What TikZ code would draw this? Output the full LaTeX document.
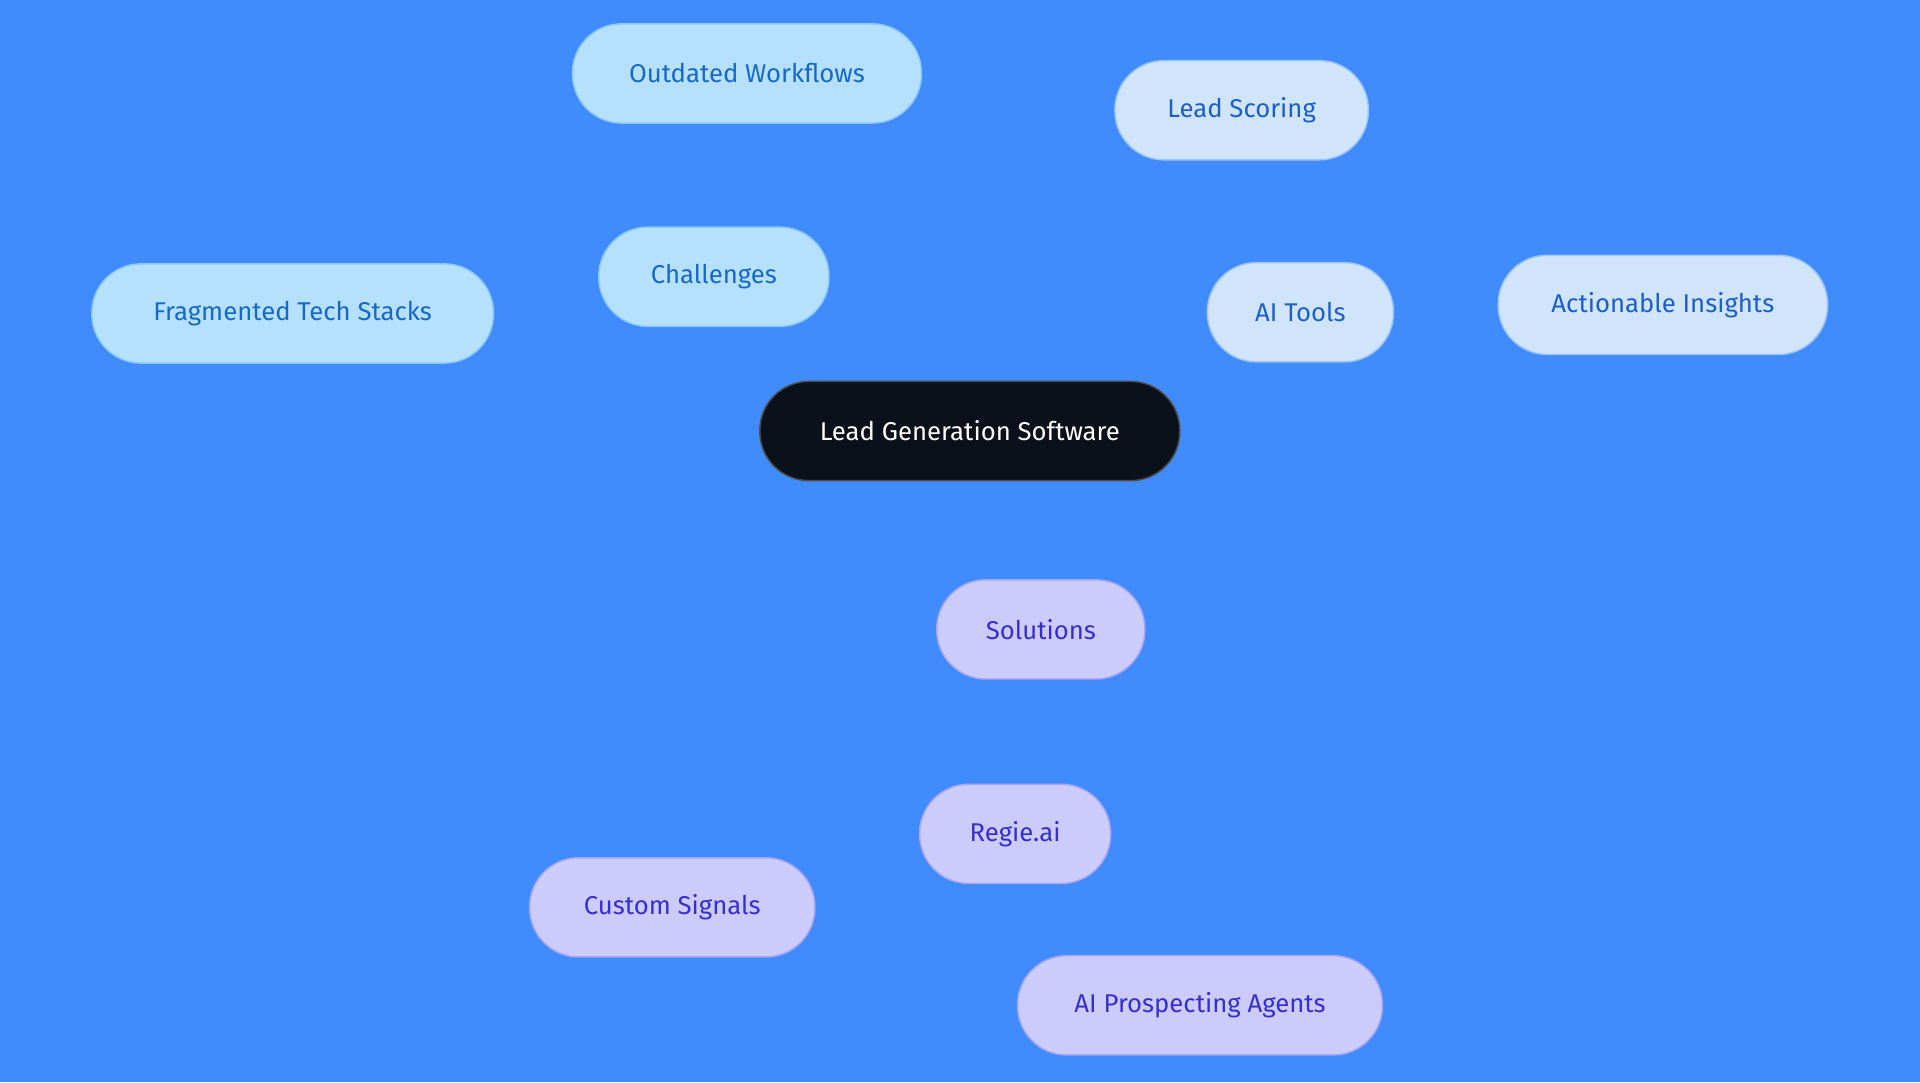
\documentclass[tikz,border=0pt]{standalone}
\usepackage{fontspec}
\setmainfont{Fira Sans}
\usetikzlibrary{backgrounds}
\definecolor{bg}{HTML}{408CFF}
\definecolor{mfill}{HTML}{0B111A}
\definecolor{cfill}{HTML}{B5E0FE}
\definecolor{cdraw}{HTML}{8CC8F8}
\definecolor{ctext}{HTML}{1769C4}
\definecolor{afill}{HTML}{D0E5FC}
\definecolor{adraw}{HTML}{9CC4F4}
\definecolor{atext}{HTML}{1D5FC4}
\definecolor{sfill}{HTML}{CBCBFC}
\definecolor{sdraw}{HTML}{A7A4F2}
\definecolor{stext}{HTML}{3A2ECB}
\begin{document}
\begin{tikzpicture}[x=1pt,y=-1pt,
  base/.style={rounded corners=40pt,line width=1.2pt,minimum height=81pt,inner sep=0pt,font=\fontsize{21}{25}\selectfont},
  ch/.style={base,fill=cfill,draw=cdraw,text=ctext},
  ai/.style={base,fill=afill,draw=adraw,text=atext},
  so/.style={base,fill=sfill,draw=sdraw,text=stext},
  ce/.style={draw=cdraw,line width=2pt},
  ae/.style={draw=adraw!80!white,line width=2pt},
  se/.style={draw=sdraw,line width=2pt}]
\fill[bg] (0,0) rectangle (1568,884);
\node[base,fill=mfill,draw=black!70,text=white,minimum width=343pt] (m) at (792,352) {Lead Generation Software};
\node[ch,minimum width=188pt] (c) at (583,226) {Challenges};
\node[ch,minimum width=285pt] (ow) at (610,60) {Outdated Workflows};
\node[ch,minimum width=328pt] (ft) at (239,256) {Fragmented Tech Stacks};
\node[ai,minimum width=152pt] (a) at (1062,255) {AI Tools};
\node[ai,minimum width=207pt] (ls) at (1014,90) {Lead Scoring};
\node[ai,minimum width=269pt] (ins) at (1358,249) {Actionable Insights};
\node[so,minimum width=170pt] (s) at (850,514) {Solutions};
\node[so,minimum width=156pt] (r) at (829,681) {Regie.ai};
\node[so,minimum width=233pt] (cs) at (549,741) {Custom Signals};
\node[so,minimum width=298pt] (ap) at (980,821) {AI Prospecting Agents};
\begin{scope}[on background layer]
\draw[ce] (m) -- (c); \draw[ce] (c) -- (ow); \draw[ce] (c) -- (ft);
\draw[ae] (m) -- (a); \draw[ae] (a) -- (ls); \draw[ae] (a) -- (ins);
\draw[se] (m) -- (s); \draw[se] (s) -- (r); \draw[se] (r) -- (cs); \draw[se] (r) -- (ap);
\end{scope}
\end{tikzpicture}
\end{document}
